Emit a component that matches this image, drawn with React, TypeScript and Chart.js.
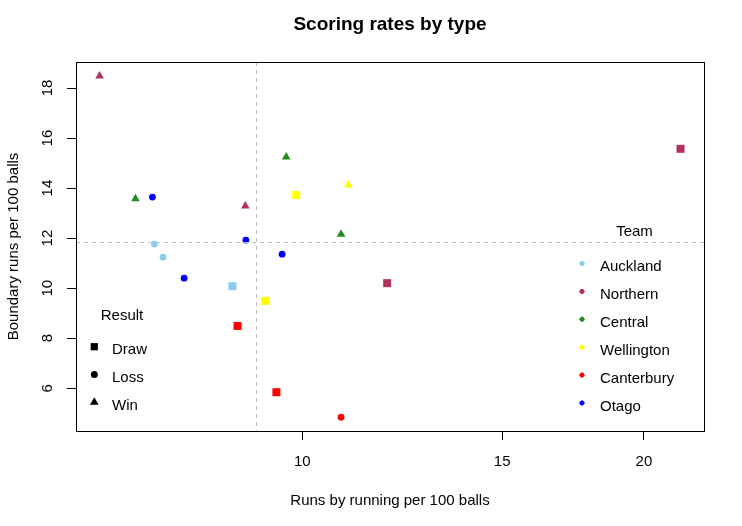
import React, { useEffect, useRef } from 'react';
import { Chart, registerables } from 'chart.js';

Chart.register(...registerables);

// ---- data ----
const teams = ['Auckland', 'Northern', 'Central', 'Wellington', 'Canterbury', 'Otago'];
const teamColors = ['#87CEEB', '#B03060', '#228B22', '#FFFF00', '#FF0000', '#0000FF'];
const results = ['Draw', 'Loss', 'Win'];

const runsByRunning = [6.63, 7.13, 7.38, 8.91, 8.92, 7.41, 7.54, 7.87, 8.68, 9.28, 8.77, 9.49, 9.6, 9.68, 10.98, 9.88, 10.82, 11.88, 10.82, 21.54];
const boundaryRuns = [18.48, 13.57, 13.64, 13.28, 11.92, 11.76, 11.24, 10.4, 10.08, 9.49, 8.49, 5.84, 11.36, 15.24, 14.12, 13.72, 12.15, 10.2, 4.84, 15.57];
const pointTeam = ['Northern', 'Central', 'Otago', 'Northern', 'Otago', 'Auckland', 'Auckland', 'Otago', 'Auckland', 'Wellington', 'Canterbury', 'Canterbury', 'Otago', 'Central', 'Wellington', 'Wellington', 'Central', 'Northern', 'Canterbury', 'Northern'];
const pointResult = ['Win', 'Win', 'Loss', 'Win', 'Loss', 'Loss', 'Loss', 'Loss', 'Draw', 'Draw', 'Draw', 'Draw', 'Loss', 'Win', 'Win', 'Draw', 'Win', 'Draw', 'Loss', 'Draw'];

const xTicks = [10, 15, 20];
const yTicks = [6, 8, 10, 12, 14, 16, 18];

const titleText = 'Scoring rates by type';
const xTitle = 'Runs by running per 100 balls';
const yTitle = 'Boundary runs per 100 balls';

// ---- style ----
const FONT = '"Liberation Sans", Arial, sans-serif';
const resultStyles: Record<string, string> = { Draw: 'rect', Loss: 'circle', Win: 'triangle' };
const resultRadii: Record<string, number> = { Draw: 5.66, Loss: 3.4, Win: 5.0 };

function median(arr: number[]) {
  const s = [...arr].sort((a, b) => a - b);
  const n = s.length;
  return n % 2 ? s[(n - 1) / 2] : (s[n / 2 - 1] + s[n / 2]) / 2;
}

function drawSymbol(ctx: CanvasRenderingContext2D, style: string, x: number, y: number, r: number) {
  ctx.beginPath();
  if (style === 'rect') {
    const h = r / Math.SQRT2;
    ctx.rect(x - h, y - h, 2 * h, 2 * h);
  } else if (style === 'circle') {
    ctx.arc(x, y, r, 0, Math.PI * 2);
  } else if (style === 'triangle') {
    let rad = 0;
    ctx.moveTo(x + Math.sin(rad) * r, y - Math.cos(rad) * r);
    rad += (2 * Math.PI) / 3;
    ctx.lineTo(x + Math.sin(rad) * r, y - Math.cos(rad) * r);
    rad += (2 * Math.PI) / 3;
    ctx.lineTo(x + Math.sin(rad) * r, y - Math.cos(rad) * r);
    ctx.closePath();
  } else if (style === 'rectRot') {
    ctx.moveTo(x, y - r);
    ctx.lineTo(x + r, y);
    ctx.lineTo(x, y + r);
    ctx.lineTo(x - r, y);
    ctx.closePath();
  }
  ctx.fill();
}

const decor = {
  id: 'rdecor',
  afterDatasetsDraw(chart: any) {
    const { ctx, chartArea: a, scales } = chart;
    const x = scales.x;
    const y = scales.y;
    ctx.save();
    ctx.strokeStyle = '#BEBEBE';
    ctx.lineWidth = 1;
    ctx.setLineDash([4, 4]);
    const vx = Math.round(x.getPixelForValue(median(runsByRunning))) + 0.5;
    ctx.beginPath();
    ctx.moveTo(vx, a.top);
    ctx.lineTo(vx, a.bottom);
    ctx.stroke();
    const hy = Math.round(y.getPixelForValue(median(boundaryRuns))) + 0.5;
    ctx.beginPath();
    ctx.moveTo(a.left, hy);
    ctx.lineTo(a.right, hy);
    ctx.stroke();
    ctx.restore();
  },
  afterDraw(chart: any) {
    const { ctx, chartArea: a, scales } = chart;
    const x = scales.x;
    const y = scales.y;
    ctx.save();
    // box
    ctx.strokeStyle = '#000';
    ctx.lineWidth = 1;
    ctx.setLineDash([]);
    ctx.strokeRect(Math.round(a.left) + 0.5, Math.round(a.top) + 0.5, Math.round(a.right - a.left), Math.round(a.bottom - a.top));

    ctx.fillStyle = '#000';
    ctx.font = `15px ${FONT}`;
    // y tick labels (rotated)
    ctx.textAlign = 'center';
    ctx.textBaseline = 'middle';
    yTicks.forEach((v) => {
      const py = y.getPixelForValue(v);
      ctx.save();
      ctx.translate(48, py);
      ctx.rotate(-Math.PI / 2);
      ctx.fillText(String(v), 0, 0);
      ctx.restore();
    });
    // y title
    ctx.save();
    ctx.translate(13.5, (a.top + a.bottom) / 2);
    ctx.rotate(-Math.PI / 2);
    ctx.fillText(yTitle, 0, 0);
    ctx.restore();

    ctx.textBaseline = 'alphabetic';
    // x tick labels
    xTicks.forEach((v) => {
      ctx.fillText(String(v), x.getPixelForValue(v), 466);
    });
    // x title
    ctx.fillText(xTitle, (a.left + a.right) / 2, 504.5);
    // main title
    ctx.font = `bold 19px ${FONT}`;
    ctx.fillText(titleText, (a.left + a.right) / 2, 30);

    // Team legend
    ctx.font = `15px ${FONT}`;
    ctx.textAlign = 'center';
    ctx.fillText('Team', 634.5, 236);
    ctx.textAlign = 'left';
    teams.forEach((t, i) => {
      const ty = 271 + i * 27.9;
      ctx.fillStyle = teamColors[i];
      drawSymbol(ctx, 'rectRot', 582, ty - 7.5, 3);
      drawSymbol(ctx, 'circle', 582, ty - 7.5, 2.3);
      ctx.fillStyle = '#000';
      ctx.fillText(t, 600, ty);
    });

    // Result legend
    ctx.textAlign = 'center';
    ctx.fillText('Result', 122, 320);
    ctx.textAlign = 'left';
    const rSizes: Record<string, number> = { Draw: 5.1, Loss: 3.5, Win: 5.0 };
    results.forEach((r, i) => {
      const ty = 354 + i * 27.8;
      ctx.fillStyle = '#000';
      drawSymbol(ctx, resultStyles[r], 94.3, ty - 7.3, rSizes[r]);
      ctx.fillText(r, 112, ty);
    });
    ctx.restore();
  },
};

export default function App() {
  const ref = useRef<HTMLCanvasElement>(null);
  useEffect(() => {
    const canvas = ref.current!;
    const datasets = teams.map((team, ti) => {
      const idx = pointTeam.map((t, i) => (t === team ? i : -1)).filter((i) => i >= 0);
      return {
        label: team,
        data: idx.map((i) => ({ x: runsByRunning[i], y: boundaryRuns[i] })),
        pointStyle: idx.map((i) => resultStyles[pointResult[i]]),
        pointRadius: idx.map((i) => resultRadii[pointResult[i]]),
        backgroundColor: teamColors[ti],
        borderColor: teamColors[ti],
        pointBorderWidth: 0,
        showLine: false,
      };
    });
    const chart = new Chart(canvas, {
      type: 'scatter',
      data: { datasets } as any,
      options: {
        responsive: false,
        animation: false,
        devicePixelRatio: 1,
        events: [],
        layout: { padding: { left: 0, top: 62, right: 38, bottom: 0 } },
        plugins: { legend: { display: false }, tooltip: { enabled: false }, title: { display: false } },
        scales: {
          x: {
            type: 'logarithmic',
            min: 6.32,
            max: 22.59,
            afterBuildTicks: (s: any) => {
              s.ticks = xTicks.map((v) => ({ value: v }));
            },
            afterFit: (s: any) => {
              s.height = 95;
            },
            ticks: { display: false },
            grid: { drawOnChartArea: false, drawTicks: true, tickLength: 9, color: '#000', lineWidth: 1 },
            border: { display: false },
          },
          y: {
            type: 'linear',
            min: 4.29,
            max: 19.04,
            afterBuildTicks: (s: any) => {
              s.ticks = yTicks.map((v) => ({ value: v }));
            },
            afterFit: (s: any) => {
              s.width = 76;
            },
            ticks: { display: false },
            grid: { drawOnChartArea: false, drawTicks: true, tickLength: 9, color: '#000', lineWidth: 1 },
            border: { display: false },
          },
        },
      } as any,
      plugins: [decor],
    });
    return () => chart.destroy();
  }, []);
  return (
    <div style={{ position: 'fixed', left: 0, top: 0, width: 742, height: 526, background: '#fff' }}>
      <canvas ref={ref} width={742} height={526} style={{ display: 'block', width: 742, height: 526 }} />
    </div>
  );
}
